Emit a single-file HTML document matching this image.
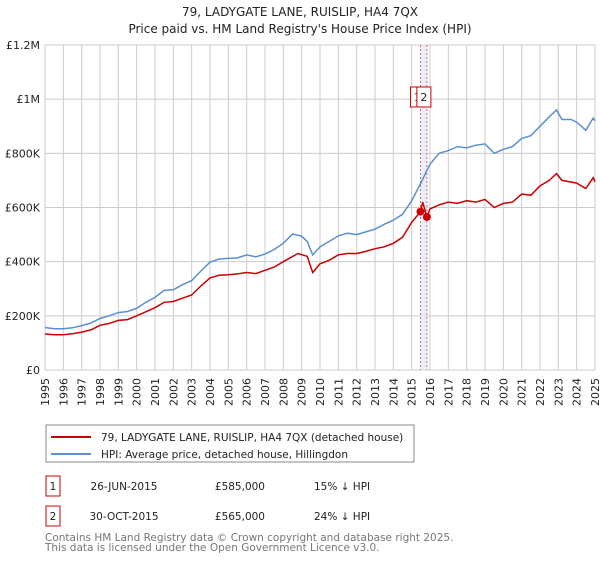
<!DOCTYPE html>
<html><head><meta charset="utf-8"><style>
body{margin:0;background:#fff;font-family:"Liberation Sans","DejaVu Sans",sans-serif;}
svg text{font-family:"DejaVu Sans","Liberation Sans",sans-serif;}
</style></head><body>
<svg id="chart" width="600" height="560" viewBox="0 0 600 560" xmlns="http://www.w3.org/2000/svg">
<text x="300" y="16" font-size="12" text-anchor="middle" fill="#222">79, LADYGATE LANE, RUISLIP, HA4 7QX</text>
<text x="300" y="33" font-size="12" text-anchor="middle" fill="#222">Price paid vs. HM Land Registry's House Price Index (HPI)</text>
<g id="grid"></g>
<g id="band"></g>
<g id="series"></g>
<g id="axes"></g>
<g>
<rect x="46" y="425" width="368" height="37" fill="#fff" stroke="#888"/>
<line x1="51" y1="437" x2="91" y2="437" stroke="#cc0000" stroke-width="2"/>
<text x="101" y="441" font-size="10.5" fill="#222">79, LADYGATE LANE, RUISLIP, HA4 7QX (detached house)</text>
<line x1="51" y1="454" x2="91" y2="454" stroke="#5b8fd0" stroke-width="2"/>
<text x="101" y="458" font-size="10.5" fill="#222">HPI: Average price, detached house, Hillingdon</text>
</g>
<g font-size="10.5" fill="#222">
<rect x="46" y="476" width="14" height="20" fill="none" stroke="#cc0000"/>
<text x="53" y="490" text-anchor="middle">1</text>
<text x="124" y="490" text-anchor="middle">26-JUN-2015</text>
<text x="265" y="490" text-anchor="end">£585,000</text>
<text x="314" y="490">15% ↓ HPI</text>
<rect x="46" y="506" width="14" height="20" fill="none" stroke="#cc0000"/>
<text x="53" y="520" text-anchor="middle">2</text>
<text x="124" y="520" text-anchor="middle">30-OCT-2015</text>
<text x="265" y="520" text-anchor="end">£565,000</text>
<text x="314" y="520">24% ↓ HPI</text>
</g>
<text x="45" y="541" font-size="10.5" fill="#777">Contains HM Land Registry data © Crown copyright and database right 2025.</text>
<text x="45" y="551" font-size="10.5" fill="#777">This data is licensed under the Open Government Licence v3.0.</text>
</svg>
<script>
const hpiYears=[1995,1995.5,1996,1996.5,1997,1997.5,1998,1998.5,1999,1999.5,2000,2000.5,2001,2001.5,2002,2002.5,2003,2003.5,2004,2004.5,2005,2005.5,2006,2006.5,2007,2007.5,2008,2008.5,2009,2009.3,2009.6,2010,2010.5,2011,2011.5,2012,2012.5,2013,2013.5,2014,2014.5,2015,2015.5,2016,2016.5,2017,2017.5,2018,2018.5,2019,2019.5,2020,2020.5,2021,2021.5,2022,2022.5,2022.9,2023.2,2023.7,2024,2024.5,2024.9,2025];
const hpiValues=[157,152,152,156,164,173,190,200,212,216,228,250,268,294,296,315,330,365,398,410,412,414,425,418,428,445,468,502,494,475,425,455,475,495,505,500,510,520,538,553,575,625,690,760,800,810,825,820,830,835,800,815,825,855,865,900,935,960,925,925,915,885,930,920];
const priceYears=[1995,1995.5,1996,1996.5,1997,1997.5,1998,1998.5,1999,1999.5,2000,2000.5,2001,2001.5,2002,2002.5,2003,2003.5,2004,2004.5,2005,2005.5,2006,2006.5,2007,2007.5,2008,2008.8,2009.3,2009.6,2010,2010.5,2011,2011.5,2012,2012.5,2013,2013.5,2014,2014.5,2015,2015.48,2015.6,2015.83,2016,2016.5,2017,2017.5,2018,2018.5,2019,2019.5,2020,2020.5,2021,2021.5,2022,2022.5,2022.9,2023.2,2024,2024.5,2024.9,2025];
const priceValues=[133,130,130,134,140,148,165,172,183,186,200,215,230,250,253,265,277,310,340,350,352,355,360,356,368,380,400,430,420,360,392,405,425,430,430,438,448,455,468,490,545,585,620,565,595,610,620,615,625,620,630,600,615,620,650,645,680,700,725,700,690,670,710,695];
const yTicks=[0,200,400,600,800,1000,1200];
const yTickLabels=["£0","£200K","£400K","£600K","£800K","£1M","£1.2M"];
const xTicks=[1995,1996,1997,1998,1999,2000,2001,2002,2003,2004,2005,2006,2007,2008,2009,2010,2011,2012,2013,2014,2015,2016,2017,2018,2019,2020,2021,2022,2023,2024,2025];
const saleYears=[2015.48,2015.83];
const saleValues=[585,565];
const saleLabels=["1","2"];
const NS="http://www.w3.org/2000/svg";
const L=45,R=595,T=45,B=370;
const xs=y=>L+(y-1995)/30*(R-L);
const ys=v=>B-v/1200*(B-T);
function mk(tag,attrs,parent){const e=document.createElementNS(NS,tag);for(const k in attrs)e.setAttribute(k,attrs[k]);parent.appendChild(e);return e;}
const grid=document.getElementById('grid'),axes=document.getElementById('axes'),ser=document.getElementById('series'),band=document.getElementById('band');
yTicks.forEach((t,i)=>{
 const g=mk('line',{x1:L,x2:R,y1:ys(t),y2:ys(t),stroke:'#ccc','stroke-width':1},grid);
 
 
 const tx=mk('text',{x:L-5,y:ys(t)+4,'font-size':11,'text-anchor':'end',fill:'#222'},axes);
 tx.textContent=yTickLabels[i];
 
 
});
xTicks.forEach(t=>{
 const g=mk('line',{x1:xs(t),x2:xs(t),y1:T,y2:B,stroke:'#ccc','stroke-width':1},grid);
 
 
 const tx=mk('text',{x:0,y:0,'font-size':11,'text-anchor':'end',fill:'#222',transform:`translate(${xs(t)+4},${B+8}) rotate(-90)`},axes);
 tx.textContent=t;
 
 
});
const bd=mk('rect',{x:xs(saleYears[0]),y:T,width:xs(saleYears[1])-xs(saleYears[0]),height:B-T,fill:'#dde8f8',opacity:0.7},band);


saleYears.forEach(y=>{
 const l=mk('line',{x1:xs(y),x2:xs(y),y1:T,y2:B,stroke:'#e06060','stroke-dasharray':'2,2'},band);
 
 
});
function path(xa,va,col,name){
 const d=xa.map((x,i)=>(i?'L':'M')+xs(x).toFixed(1)+','+ys(va[i]).toFixed(1)).join('');
 const p=mk('path',{d:d,fill:'none',stroke:col,'stroke-width':1.5},ser);
 
 
}
path(hpiYears,hpiValues,'#5b8fd0','hpi-line');
path(priceYears,priceValues,'#cc0000','price-paid-line');
saleYears.forEach((y,i)=>{
 const c=mk('circle',{cx:xs(y),cy:ys(saleValues[i]),r:4,fill:'#cc0000'},ser);
 
 
 const bx=xs(y)-10;
 const r=mk('rect',{x:bx,y:87,width:14,height:20,fill:'#fff',stroke:'#cc0000'},ser);
 
 
 const t=mk('text',{x:bx+7,y:101,'font-size':11,'text-anchor':'middle',fill:'#222'},ser);
 t.textContent=saleLabels[i];
 
 
});
</script>
</body></html>
